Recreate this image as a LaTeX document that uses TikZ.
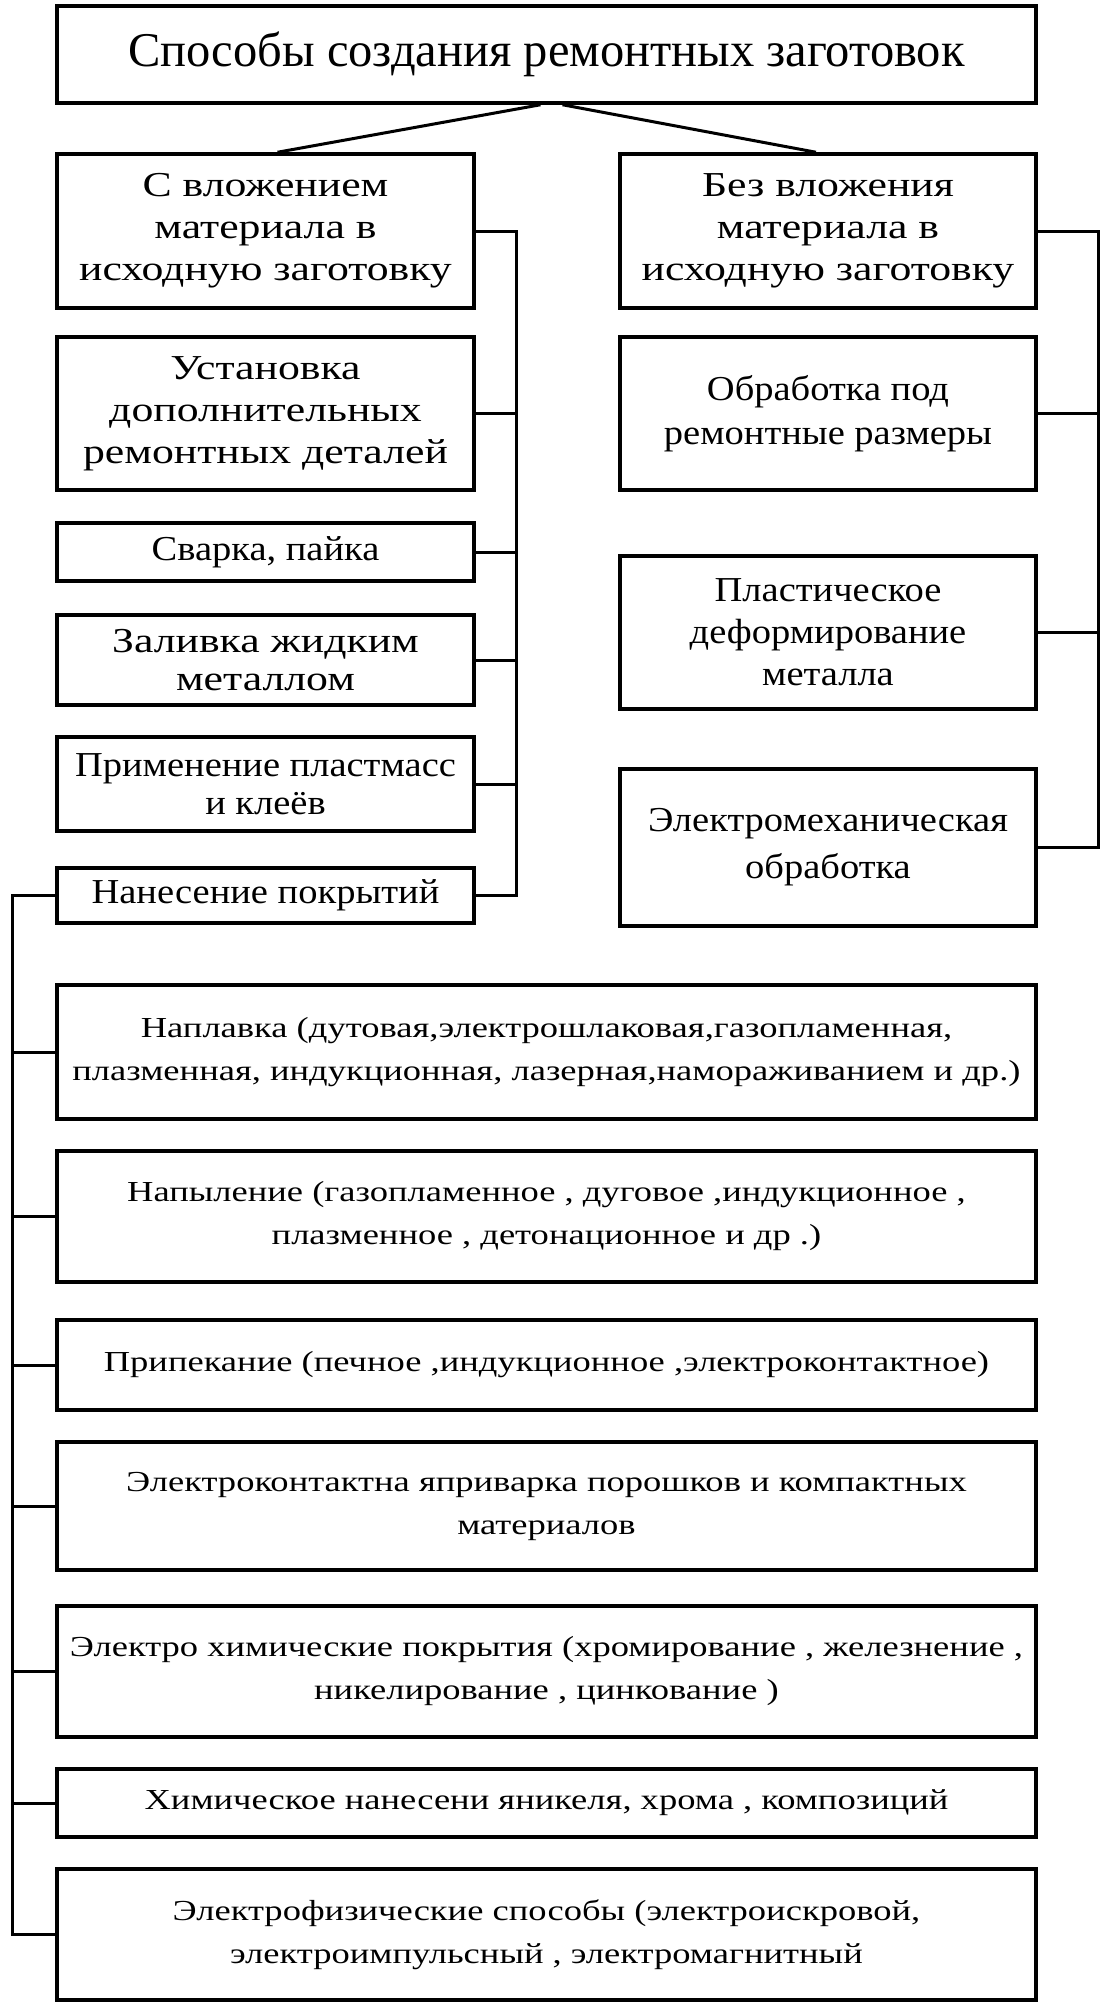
\documentclass[tikz,border=0pt]{standalone}
\usepackage{fontspec}
\setmainfont{Liberation Serif}
\newfontfamily\widefont[FakeStretch=1.25]{Liberation Serif}
\newfontfamily\midfont[FakeStretch=1.1]{Liberation Serif}
\newfontfamily\wayfont[FakeStretch=1.26]{Liberation Serif}
\usetikzlibrary{calc}

\begin{document}
\begin{tikzpicture}[x=1pt,y=1pt,
	every node/.style={draw,line width=3.5pt,align=center,inner sep=0pt},
	titlenode/.style={minimum width=979pt,minimum height=97pt,font=\fontsize{48.5}{58}\selectfont},
	leftnode/.style={minimum width=417pt,font=\widefont\fontsize{35}{42}\selectfont},
	rightnode/.style={minimum width=416pt,font=\widefont\fontsize{35}{42}\selectfont},
	narrownode/.style={font=\midfont\fontsize{35}{42}\selectfont},
	tightnode/.style={font=\widefont\fontsize{35}{38}\selectfont},
	loosenode/.style={font=\midfont\fontsize{35}{47}\selectfont},
	waynode/.style={minimum width=979pt,font=\wayfont\fontsize{29}{43}\selectfont},
	link/.style={line width=3pt},
	]
	\useasboundingbox (0,0) rectangle (1116,-2008);
	
	% the main node
	\node[titlenode] (ways) at (546.5,-54.5) {Способы создания ремонтных заготовок};
	
	% with material
	\begin{scope}[xshift=265.5pt]
	\node[leftnode,minimum height=154pt] (with) at (0,-231) {С вложением\\материала в\\исходную заготовку};
	\node[leftnode,minimum height=153pt] (parts) at (0,-413.5) {Установка\\дополнительных\\ремонтных деталей};
	\node[leftnode,narrownode,minimum height=58pt] (weld) at (0,-552) {Сварка, пайка};
	\node[leftnode,tightnode,minimum height=90pt] (cast) at (0,-660) {Заливка жидким\\металлом};
	\node[leftnode,narrownode,font=\midfont\fontsize{35}{38}\selectfont,minimum height=94pt] (glue) at (0,-784) {Применение пластмасс\\и клеёв};
	\node[leftnode,narrownode,minimum height=55pt] (coat) at (0,-895.5) {Нанесение покрытий};
	\end{scope}
	
	% without material
	\begin{scope}[xshift=828pt]
	\node[rightnode,minimum height=154pt] (without) at (0,-231) {Без вложения\\материала в\\исходную заготовку};
	\node[rightnode,narrownode,font=\midfont\fontsize{35}{44}\selectfont,minimum height=153pt] (sizes) at (0,-413.5) {Обработка под\\ремонтные размеры};
	\node[rightnode,narrownode,minimum height=153pt] (plastic) at (0,-632.5) {Пластическое\\деформирование\\металла};
	\node[rightnode,loosenode,minimum height=157pt] (electromech) at (0,-847.5) {Электромеханическая\\обработка};
	\end{scope}
	
	% coatings
	\begin{scope}[xshift=546.5pt]
	\node[waynode,minimum height=134pt] (surfacing) at (0,-1052) {Наплавка (дутовая,электрошлаковая,газопламенная,\\плазменная, индукционная, лазерная,намораживанием и др.)};
	\node[waynode,minimum height=131pt] (spraying) at (0,-1216.5) {Напыление (газопламенное , дуговое ,индукционное ,\\плазменное , детонационное и др .)};
	\node[waynode,minimum height=90pt] (sintering) at (0,-1365) {Припекание (печное ,индукционное ,электроконтактное)};
	\node[waynode,minimum height=128pt] (welding) at (0,-1506) {Электроконтактна яприварка порошков и компактных\\материалов};
	\node[waynode,minimum height=131pt] (plating) at (0,-1671.5) {Электро химические покрытия (хромирование , железнение ,\\никелирование , цинкование )};
	\node[waynode,minimum height=68pt] (chemical) at (0,-1803) {Химическое нанесени яникеля, хрома , композиций};
	\node[waynode,minimum height=131pt] (physical) at (0,-1934.5) {Электрофизические способы (электроискровой,\\электроимпульсный , электромагнитный};
	\end{scope}
	
	\coordinate (lbus) at (516,0);
	\coordinate (rbus) at (1098,0);
	\coordinate (cbus) at (12,0);
	
	% top edges
	\draw[link] ($(ways.south)+(-6,0)$) -- ($(with.north)+(12,0)$);
	\draw[link] ($(ways.south)+(16,0)$) -- ($(without.north)+(-12,0)$);
	
	% left edges
	\draw[link] (with.east) -- (with.east -| lbus) -- (coat.east -| lbus) -- (coat.east);
	\foreach \n in {parts,weld,cast,glue}
	\draw[link] (\n.east) -- (\n.east -| lbus);
	
	% right edges
	\draw[link] (without.east) -- (without.east -| rbus) -- (electromech.east -| rbus) -- (electromech.east);
	\foreach \n in {sizes,plastic}
	\draw[link] (\n.east) -- (\n.east -| rbus);
	
	% coating edges
	\draw[link] (coat.west) -- (coat.west -| cbus) -- (physical.west -| cbus) -- (physical.west);
	\foreach \n in {surfacing,spraying,sintering,welding,plating,chemical}
	\draw[link] (\n.west) -- (\n.west -| cbus);
	
\end{tikzpicture}
\end{document}
